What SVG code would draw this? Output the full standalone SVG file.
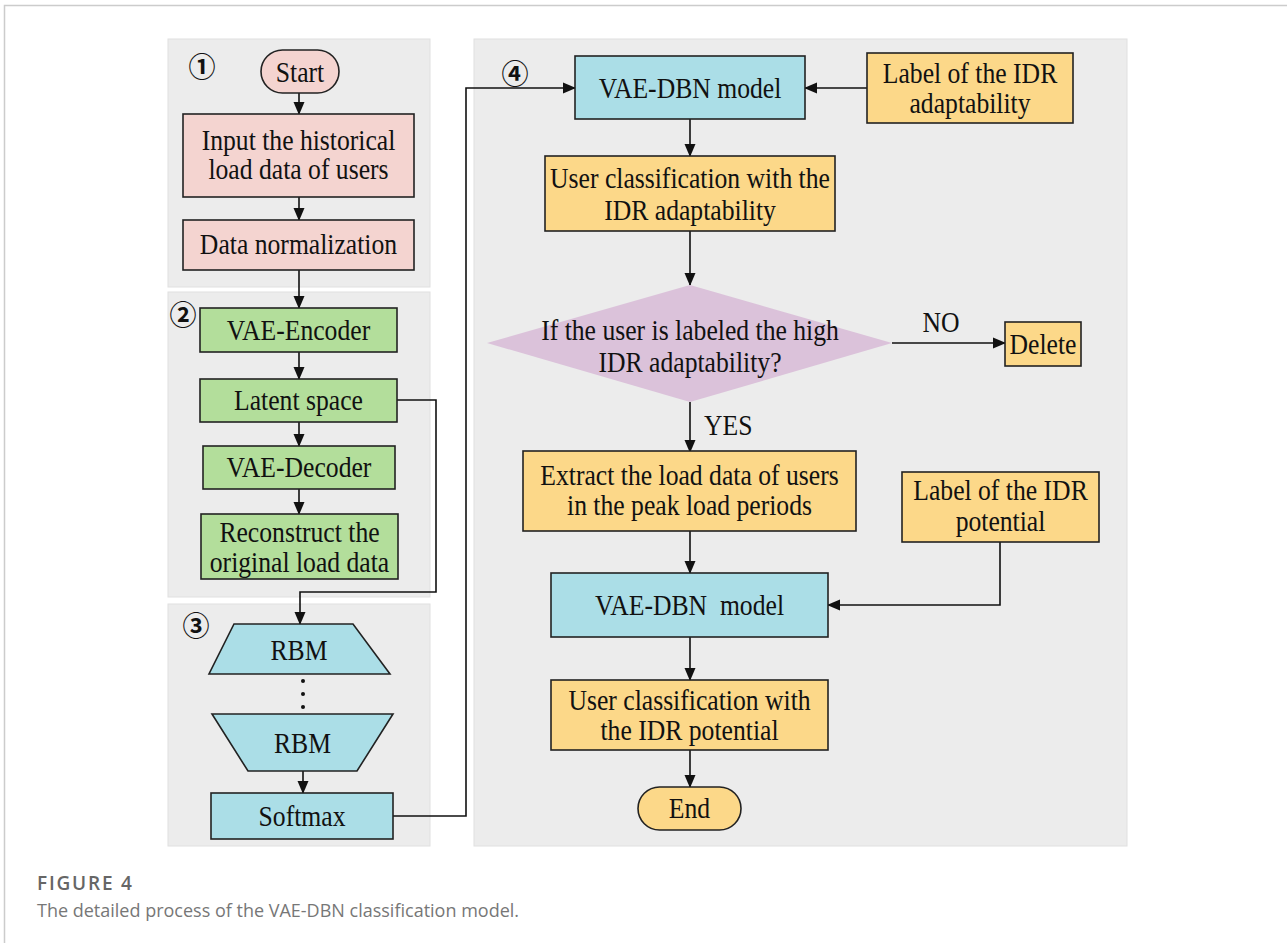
<svg xmlns="http://www.w3.org/2000/svg" width="1287" height="943" viewBox="0 0 1287 943">
<defs>
<marker id="ah" markerWidth="13" markerHeight="13" refX="12" refY="6.5" orient="auto" markerUnits="userSpaceOnUse">
<path d="M0,1 L13,6.5 L0,12 Z" fill="#111"/>
</marker>
<style>
.panel{fill:#ececec;stroke:#e0e0e0;stroke-width:1}
.box{stroke:#222;stroke-width:1.6}
.pink{fill:#f4d4d0}
.green{fill:#b3de9b}
.blue{fill:#abdee7}
.orange{fill:#fcd889}
.purple{fill:#dbc2da;stroke:none}
.t{font-family:"Liberation Serif","Times New Roman",serif;font-size:28.5px;fill:#111;text-anchor:middle}
.num{font-family:"Noto Sans CJK SC","DejaVu Sans",sans-serif;font-size:27px;font-weight:700;fill:#111;text-anchor:middle;dominant-baseline:central}
.ca{fill:none;stroke:#111;stroke-width:1.6;marker-end:url(#ah)}
.cap1{font-family:"Open Sans","Noto Sans",sans-serif;font-size:19px;font-weight:600;fill:#666;letter-spacing:1.8px}
.cap2{font-family:"Open Sans","Noto Sans",sans-serif;font-size:18px;fill:#777}
</style>
</defs>
<rect width="1287" height="943" fill="#ffffff"/>
<path d="M4.5,943 V5.5 H1287" fill="none" stroke="#cccccc" stroke-width="1.5"/>

<g id="panels">
<rect class="panel" x="168" y="39" width="262" height="248"/>
<rect class="panel" x="168" y="292" width="262" height="305"/>
<rect class="panel" x="168" y="604" width="262" height="242"/>
<rect class="panel" x="474" y="39" width="653" height="807"/>
<text class="num" x="202" y="65">①</text>
<text class="num" x="183" y="313">②</text>
<text class="num" x="196" y="624">③</text>
<text class="num" x="515" y="72">④</text>
</g>

<g id="connectors">
<path class="ca" d="M299,93 V114"/>
<path class="ca" d="M299,197 V220"/>
<path class="ca" d="M299,270 V308"/>
<path class="ca" d="M299,352 V379"/>
<path class="ca" d="M299,422 V446"/>
<path class="ca" d="M299,489 V514"/>
<path class="ca" d="M397,400 H436 V592 H300 V624"/>
<path class="ca" d="M303,771 V793"/>
<path class="ca" d="M393,816 H466 V88 H575"/>
<path class="ca" d="M867,88 H805"/>
<path class="ca" d="M690,119 V156"/>
<path class="ca" d="M690,231 V285"/>
<path class="ca" d="M892,343 H1005"/>
<path class="ca" d="M690,402 V452"/>
<path class="ca" d="M690,531 V573"/>
<path class="ca" d="M1000,542 V605 H828"/>
<path class="ca" d="M690,637 V680"/>
<path class="ca" d="M690,750 V787"/>
<text class="t" transform="matrix(0.9 0 0 1 941 332)">NO</text>
<text class="t" style="text-anchor:start" transform="matrix(0.9 0 0 1 704 435)">YES</text>
</g>

<g id="start">
<rect class="box pink" x="261" y="50" width="78" height="43" rx="21.5"/>
<text class="t" transform="matrix(0.9 0 0 1 300 82)">Start</text>
</g>
<g id="input">
<rect class="box pink" x="183" y="114" width="231" height="83"/>
<text class="t" transform="matrix(0.9 0 0 1 298.5 150)">Input the historical</text>
<text class="t" transform="matrix(0.9 0 0 1 298.5 179)">load data of users</text>
</g>
<g id="normalization">
<rect class="box pink" x="183" y="220" width="231" height="50"/>
<text class="t" transform="matrix(0.9 0 0 1 298.5 254)">Data normalization</text>
</g>

<g id="encoder">
<rect class="box green" x="200" y="308" width="197" height="44"/>
<text class="t" transform="matrix(0.9 0 0 1 298.5 340)">VAE-Encoder</text>
</g>
<g id="latent">
<rect class="box green" x="200" y="379" width="197" height="43"/>
<text class="t" transform="matrix(0.9 0 0 1 298.5 410)">Latent space</text>
</g>
<g id="decoder">
<rect class="box green" x="203" y="446" width="192" height="43"/>
<text class="t" transform="matrix(0.9 0 0 1 299 477)">VAE-Decoder</text>
</g>
<g id="reconstruct">
<rect class="box green" x="201" y="514" width="197" height="65"/>
<text class="t" transform="matrix(0.9 0 0 1 299.5 542)">Reconstruct the</text>
<text class="t" transform="matrix(0.9 0 0 1 299.5 572)">original load data</text>
</g>

<g id="rbm1">
<polygon class="box blue" points="234,624 353,624 390,674 209,674"/>
<text class="t" transform="matrix(0.9 0 0 1 299 660)">RBM</text>
</g>
<g id="dots">
<circle cx="303" cy="681" r="2" fill="#111"/>
<circle cx="303" cy="694" r="2" fill="#111"/>
<circle cx="303" cy="707" r="2" fill="#111"/>
</g>
<g id="rbm2">
<polygon class="box blue" points="212,714 393,714 357,771 248,771"/>
<text class="t" transform="matrix(0.9 0 0 1 302.5 753)">RBM</text>
</g>
<g id="softmax">
<rect class="box blue" x="211" y="793" width="182" height="46"/>
<text class="t" transform="matrix(0.9 0 0 1 302 826)">Softmax</text>
</g>

<g id="vaedbn1">
<rect class="box blue" x="575" y="56" width="230" height="63"/>
<text class="t" transform="matrix(0.9 0 0 1 690 98)">VAE-DBN model</text>
</g>
<g id="label-adapt">
<rect class="box orange" x="867" y="53" width="206" height="70"/>
<text class="t" transform="matrix(0.9 0 0 1 970 83)">Label of the IDR</text>
<text class="t" transform="matrix(0.9 0 0 1 970 113)">adaptability</text>
</g>
<g id="userclass1">
<rect class="box orange" x="545" y="156" width="290" height="75"/>
<text class="t" transform="matrix(0.9 0 0 1 690 188)">User classification with the</text>
<text class="t" transform="matrix(0.9 0 0 1 690 220)">IDR adaptability</text>
</g>
<g id="decision">
<polygon class="purple" points="690,285 892,343 690,402 487,343"/>
<text class="t" transform="matrix(0.9 0 0 1 690 340)">If the user is labeled the high</text>
<text class="t" transform="matrix(0.9 0 0 1 690 372)">IDR adaptability?</text>
</g>
<g id="delete">
<rect class="box orange" x="1005" y="322" width="76" height="44"/>
<text class="t" transform="matrix(0.9 0 0 1 1043 354)">Delete</text>
</g>
<g id="extract">
<rect class="box orange" x="523" y="451" width="333" height="80"/>
<text class="t" transform="matrix(0.9 0 0 1 689.5 485)">Extract the load data of users</text>
<text class="t" transform="matrix(0.9 0 0 1 689.5 515)">in the peak load periods</text>
</g>
<g id="label-potential">
<rect class="box orange" x="902" y="472" width="197" height="70"/>
<text class="t" transform="matrix(0.9 0 0 1 1000.5 500)">Label of the IDR</text>
<text class="t" transform="matrix(0.9 0 0 1 1000.5 531)">potential</text>
</g>
<g id="vaedbn2">
<rect class="box blue" x="551" y="573" width="277" height="64"/>
<text class="t" transform="matrix(0.9 0 0 1 689.5 615)" style="white-space:pre">VAE-DBN  model</text>
</g>
<g id="userclass2">
<rect class="box orange" x="551" y="680" width="277" height="70"/>
<text class="t" transform="matrix(0.9 0 0 1 689.5 710)">User classification with</text>
<text class="t" transform="matrix(0.9 0 0 1 689.5 740)">the IDR potential</text>
</g>
<g id="end">
<rect class="box orange" x="638" y="787" width="103" height="43" rx="21.5"/>
<text class="t" transform="matrix(0.9 0 0 1 689.5 818)">End</text>
</g>

<g id="caption">
<text class="cap1" x="37" y="890">FIGURE 4</text>
<text class="cap2" x="37" y="917">The detailed process of the VAE-DBN classification model.</text>
</g>
</svg>
